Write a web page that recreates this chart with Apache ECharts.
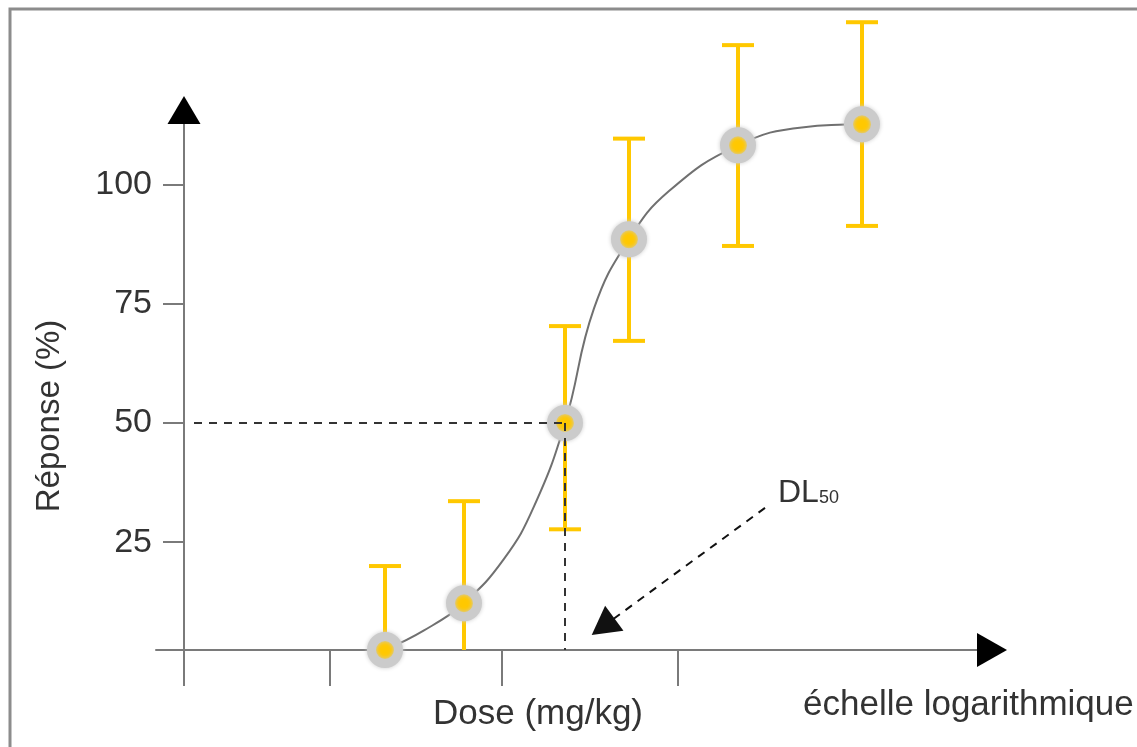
<!DOCTYPE html>
<html>
<head>
<meta charset="utf-8">
<script src="https://cdn.jsdelivr.net/npm/echarts@6/dist/echarts.min.js"></script>
<style>
html,body{margin:0;padding:0;background:#fff;}
#chart{width:1137px;height:747px;}
</style>
</head>
<body>
<div id="chart"></div>
<script>
// ---- data ----
// x = position on the logarithmic dose scale (arbitrary log units)
const doseLog   = [2.01, 2.80, 3.81, 4.45, 5.54, 6.78];
const response  = [2.4, 12.2, 50, 88.5, 108.2, 112.6];
const errLow    = [2.4, 2.4, 27.7, 67.2, 87.1, 91.3];
const errHigh   = [20.0, 33.6, 70.3, 109.6, 129.2, 134.0];
// fitted dose-response curve, positions
const curveX    = [2.01, 2.40, 2.80, 3.20, 3.50, 3.81, 4.10, 4.45, 4.85, 5.54, 6.20, 6.78];
const curveY    = [2.4, 6.5, 12.3, 21.5, 32.5, 50, 74, 88.5, 98.6, 108.2, 112.0, 112.6];
const xTicks    = [0, 1.46, 3.18, 4.94];
const yTicks    = [25, 50, 75, 100];
const dl50      = [3.81, 50];
const dl50Arrow = [[5.81, 32.2], [4.19, 7.3]];

const yMin = 2.4, yMax = 115.6, xMin = -0.28, xMax = 8.08;
const FONT = '"Liberation Sans", Arial, sans-serif';
const TXT = '#333333';
const AX = '#7a7a7a';
const YEL = '#FFC800';

const chart = echarts.init(document.getElementById('chart'), null, {renderer: 'canvas'});

const pts = doseLog.map((x, i) => [x, response[i]]);
const errs = doseLog.map((x, i) => [x, errLow[i], errHigh[i]]);
const curve = curveX.map((x, i) => [x, curveY[i]]);

chart.setOption({
  animation: false,
  backgroundColor: '#ffffff',
  grid: {left: 156, right: 145, top: 110, bottom: 97, containLabel: false, outerBoundsMode: 'none'},
  xAxis: {
    type: 'value', min: xMin, max: xMax,
    splitLine: {show: false},
    axisLine: {show: true, onZero: false, lineStyle: {color: AX, width: 2}},
    axisTick: {show: true, inside: false, length: 36, customValues: xTicks, lineStyle: {color: AX, width: 2}},
    axisLabel: {show: false}
  },
  yAxis: {
    type: 'value', min: yMin, max: yMax,
    splitLine: {show: false},
    axisLine: {show: true, onZero: true, lineStyle: {color: AX, width: 2}},
    axisTick: {show: true, length: 21, customValues: yTicks, lineStyle: {color: AX, width: 2}},
    axisLabel: {show: true, customValues: yTicks, margin: 4, color: TXT, fontSize: 34, fontFamily: FONT}
  },
  series: [
    {
      type: 'line',
      z: 1,
      clip: false,
      data: curve,
      smooth: 0.45,
      showSymbol: false,
      symbol: 'none',
      lineStyle: {color: '#707070', width: 2},
      emphasis: {disabled: true},
      markLine: {
        silent: true,
        symbol: ['none', 'none'],
        label: {show: false},
        lineStyle: {color: '#333', type: [8, 7], width: 2},
        data: [
          [{coord: [0.1, dl50[1]]}, {coord: [dl50[0], dl50[1]]}],
          [{coord: [dl50[0], dl50[1]]}, {coord: [dl50[0], yMin]}],
          [{coord: dl50Arrow[0], symbol: 'none'}, {coord: dl50Arrow[1], symbol: 'triangle', symbolSize: [31, 28], lineStyle: {color: '#111'}}]
        ]
      }
    },
    {
      type: 'custom',
      z: 2,
      clip: false,
      data: errs,
      renderItem: function (params, api) {
        const x = api.value(0), lo = api.value(1), hi = api.value(2);
        const pLo = api.coord([x, lo]);
        const pHi = api.coord([x, hi]);
        const hw = 16;
        const st = {stroke: YEL, lineWidth: 4};
        const children = [
          {type: 'line', shape: {x1: pHi[0], y1: pHi[1], x2: pLo[0], y2: pLo[1]}, style: st},
          {type: 'line', shape: {x1: pHi[0] - hw, y1: pHi[1], x2: pHi[0] + hw, y2: pHi[1]}, style: st}
        ];
        if (lo > yMin + 0.01) {
          children.push({type: 'line', shape: {x1: pLo[0] - hw, y1: pLo[1], x2: pLo[0] + hw, y2: pLo[1]}, style: st});
        }
        return {type: 'group', children: children};
      }
    },
    {
      type: 'scatter',
      z: 3,
      clip: false,
      data: pts,
      symbol: 'circle',
      symbolSize: 27,
      itemStyle: {color: YEL, borderColor: '#cbcbcb', borderWidth: 9, shadowBlur: 4, shadowColor: '#cbcbcb', opacity: 1},
      emphasis: {disabled: true}
    }
  ]
});

// decorations: frame, axis arrowheads and texts
const xEnd = chart.convertToPixel({gridIndex: 0}, [xMax, yMin]);
const yEnd = chart.convertToPixel({gridIndex: 0}, [0, yMax]);
chart.setOption({
  graphic: [
    {type: 'rect', silent: true, z: 0, shape: {x: 10, y: 9, width: 1300, height: 900}, style: {fill: null, stroke: '#8c8c8c', lineWidth: 3}},
    {type: 'polygon', silent: true, z: 10, shape: {points: [[xEnd[0] - 15, xEnd[1] - 17], [xEnd[0] + 15, xEnd[1]], [xEnd[0] - 15, xEnd[1] + 17]]}, style: {fill: '#000'}},
    {type: 'polygon', silent: true, z: 10, shape: {points: [[yEnd[0] - 16.5, yEnd[1] + 14], [yEnd[0], yEnd[1] - 14], [yEnd[0] + 16.5, yEnd[1] + 14]]}, style: {fill: '#000'}},
    {type: 'text', silent: true, x: 50, y: 416, rotation: Math.PI / 2,
      style: {text: 'Réponse (%)', x: 0, y: 0, align: 'center', verticalAlign: 'middle', fill: TXT, font: '33px ' + FONT}},
    {type: 'text', silent: true, x: 538, y: 714,
      style: {text: 'Dose (mg/kg)', x: 0, y: 0, align: 'center', verticalAlign: 'middle', fill: TXT, font: '35px ' + FONT}},
    {type: 'text', silent: true, x: 803, y: 705,
      style: {text: 'échelle logarithmique', x: 0, y: 0, align: 'left', verticalAlign: 'middle', fill: TXT, font: '35px ' + FONT}},
    {type: 'text', silent: true, x: 778, y: 509,
      style: {text: '{a|DL}{b|50}', x: 0, y: 0, align: 'left', verticalAlign: 'bottom', fill: TXT,
        rich: {
          a: {fontSize: 32, fontFamily: FONT, fill: TXT, lineHeight: 32, verticalAlign: 'bottom'},
          b: {fontSize: 18, fontFamily: FONT, fill: TXT, lineHeight: 18, verticalAlign: 'bottom', padding: [0, 0, 2, 0]}
        }}}
  ]
});
</script>
</body>
</html>
